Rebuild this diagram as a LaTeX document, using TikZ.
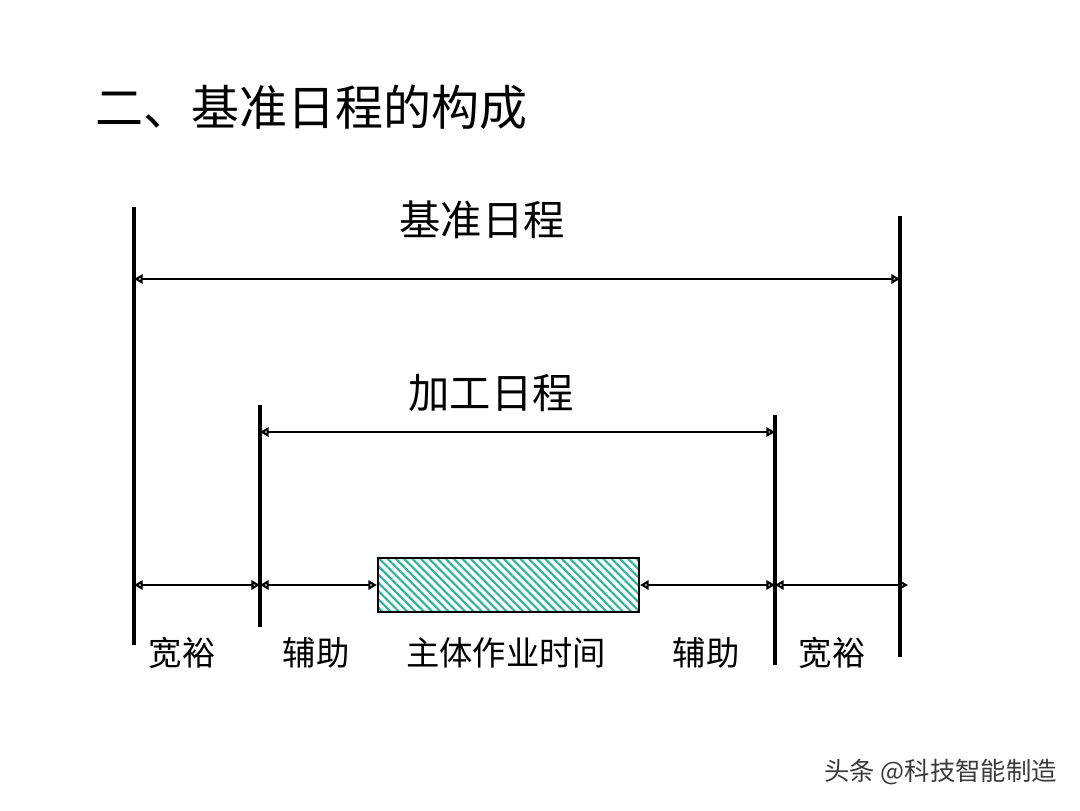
\documentclass[tikz,border=0pt]{standalone}
\usepackage{fontspec}
\setmainfont{Noto Sans CJK SC}
\usetikzlibrary{arrows.meta,patterns.meta}
\definecolor{hatch}{HTML}{2BB596}
\definecolor{wm}{HTML}{3A3A3A}
\begin{document}
\begin{tikzpicture}[x=0.75pt,y=-0.75pt,
  vline/.style={line width=2.8pt},
  dim/.style={line width=2.2pt,{Triangle[open,length=6.5pt,width=7pt]}-{Triangle[open,length=6.5pt,width=7pt]}},
  lbl/.style={font=\fontsize{25}{30}\selectfont,inner sep=0pt},
  head/.style={font=\fontsize{31}{36}\selectfont,inner sep=0pt},
  work/.style={draw,line width=1pt,inner sep=0pt,minimum width=195.75pt,minimum height=40.5pt,
    pattern={Lines[angle=-45,distance=4.4pt,line width=1.6pt]},pattern color=hatch}]
\useasboundingbox (0,0) rectangle (1080,810);
% title
\node[font=\fontsize{36}{40}\selectfont,anchor=west,inner sep=0pt] (title) at (95,107) {二、基准日程的构成};
% vertical lines
\coordinate (A1) at (134,207); \coordinate (A2) at (134,645);
\coordinate (D1) at (900,216); \coordinate (D2) at (900,657);
\coordinate (B1) at (260,405); \coordinate (B2) at (260,627);
\coordinate (C1) at (775,415); \coordinate (C2) at (775,665);
\draw[vline] (A1) -- (A2);
\draw[vline] (D1) -- (D2);
\draw[vline] (B1) -- (B2);
\draw[vline] (C1) -- (C2);
% top dimension
\coordinate (T1) at (134,279); \coordinate (T2) at (900,279);
\draw[dim] (T1) -- (T2);
\node[head] (jz) at (482,220) {基准日程};
% middle dimension
\coordinate (M1) at (260,432); \coordinate (M2) at (775,432);
\draw[dim] (M1) -- (M2);
\node[head] (jg) at (491,393) {加工日程};
% bottom row
\node[work] (box) at (508.5,585) {};
\coordinate (P0) at (134,585); \coordinate (P1) at (260,585);
\coordinate (P4) at (775,585); \coordinate (P5) at (908,585);
\draw[dim] (P0) -- (P1);
\draw[dim] (P1) -- (box.west);
\draw[dim] (box.east) -- (P4);
\draw[dim] (P4) -- (P5);
% labels
\node[lbl] (l1) at (182,653) {宽裕};
\node[lbl] (l2) at (316,653) {辅助};
\node[lbl] (l3) at (506,653) {主体作业时间};
\node[lbl] (l4) at (706,653) {辅助};
\node[lbl] (l5) at (832,653) {宽裕};
% watermark
\node[font=\fontsize{19}{22}\selectfont,text=wm,anchor=east,inner sep=0pt] (wmk) at (1057,772) {头条 @科技智能制造};
\end{tikzpicture}
\end{document}
